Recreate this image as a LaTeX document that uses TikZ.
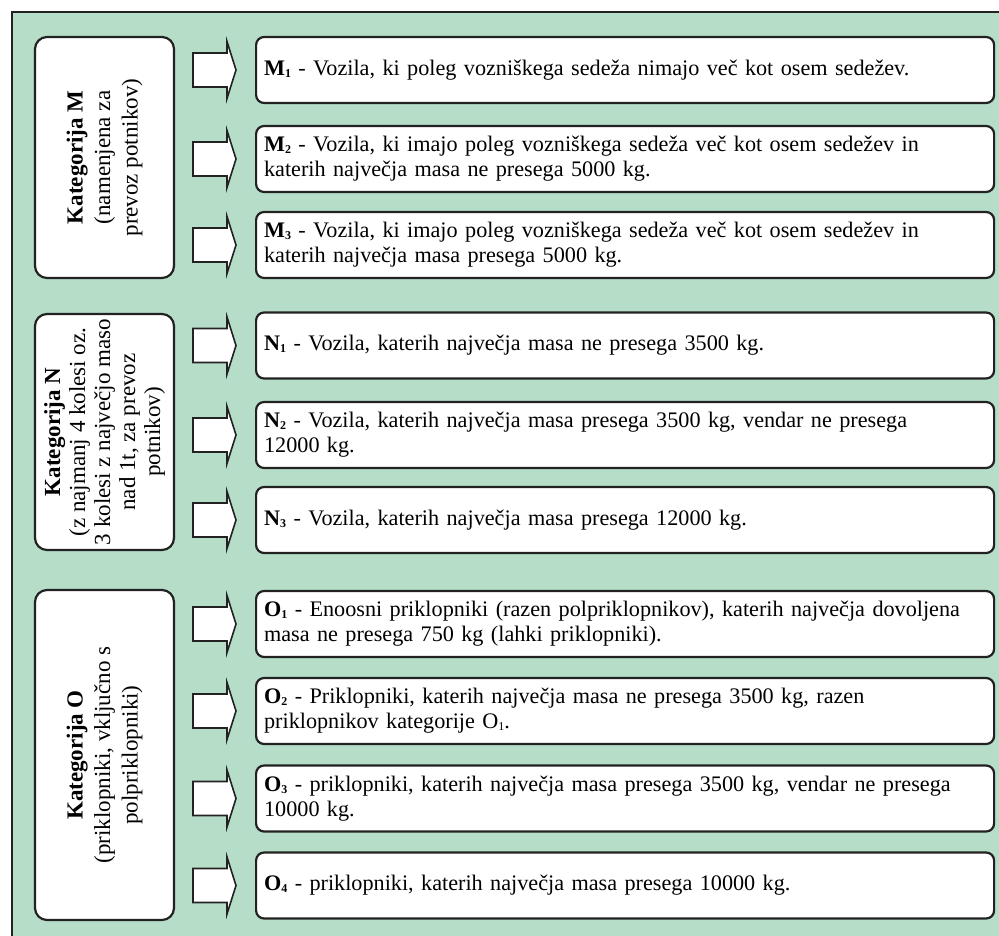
\documentclass[tikz,border=0pt]{standalone}
\usepackage{fontspec}
\setmainfont{Liberation Serif}
\hyphenpenalty=10000
\definecolor{panelgreen}{RGB}{181,221,200}
\definecolor{edge}{RGB}{34,34,34}
\newcommand\idx[1]{\raisebox{-2pt}{\fontsize{12}{12}\selectfont #1}}
\newcommand\cls[2]{{\bfseries #1\idx{#2}}}
\begin{document}
\begin{tikzpicture}[x=1pt,y=-1pt,
  catbox/.style={draw=edge, line width=2.2pt, fill=white, rounded corners=12pt,
    rotate=90, align=center, inner sep=4pt,
    font=\fontsize{23}{27.5}\selectfont},
  itembox/.style={draw=edge, line width=2.2pt, fill=white, rounded corners=8pt,
    anchor=west, minimum width=732pt, minimum height=66pt,
    text width=722pt, align=left, inner xsep=8pt, inner ysep=0pt,
    font=\fontsize{22.2}{25}\selectfont},
  blockarrow/.style={draw=edge, line width=1.6pt, fill=white, line join=miter}
]
\useasboundingbox (0,0) rectangle (999,936);
\begin{scope}
  \clip (0,0) rectangle (999,936);
  \draw[edge, line width=2.4pt, fill=panelgreen] (12,12) rectangle (1020,960);
\end{scope}

% category boxes (text runs bottom to top)
\node[catbox, minimum width=241pt, minimum height=139pt] (catM) at (104.5,157.5)
  {{\bfseries Kategorija M}\\(namenjena za\\prevoz potnikov)};
\node[catbox, minimum width=236pt, minimum height=139pt,
      font=\fontsize{23}{25}\selectfont] (catN) at (104.5,432)
  {{\bfseries Kategorija N}\\(z najmanj 4 kolesi oz.\\3 kolesi z največjo maso\\nad 1t, za prevoz\\potnikov)};
\node[catbox, minimum width=330pt, minimum height=139pt] (catO) at (104.5,755)
  {{\bfseries Kategorija O}\\(priklopniki, vključno s\\polpriklopniki)};

% block arrows pointing at each class
\foreach \c in {70,159,245,345.5,435,520,624,711,798.5,885.5}{
  \draw[blockarrow] (193,\c-17) -- (227,\c-17) -- (227,\c-28.5) -- (236,\c)
     -- (227,\c+28.5) -- (227,\c+17) -- (193,\c+17) -- cycle;
}

% class descriptions
\node[itembox] (M1) at (255,70)
  {\cls{M}{1} - Vozila, ki poleg vozniškega sedeža nimajo več kot osem sedežev.};
\node[itembox] (M2) at (255,159)
  {\cls{M}{2} - Vozila, ki imajo poleg vozniškega sedeža več kot osem sedežev in\\katerih največja masa ne presega 5000 kg.};
\node[itembox] (M3) at (255,245)
  {\cls{M}{3} - Vozila, ki imajo poleg vozniškega sedeža več kot osem sedežev in\\katerih največja masa presega 5000 kg.};
\node[itembox] (N1) at (255,345.5)
  {\cls{N}{1} - Vozila, katerih največja masa ne presega 3500 kg.};
\node[itembox] (N2) at (255,435)
  {\cls{N}{2} - Vozila, katerih največja masa presega 3500 kg, vendar ne presega\\12000 kg.};
\node[itembox] (N3) at (255,520)
  {\cls{N}{3} - Vozila, katerih največja masa presega 12000 kg.};
\node[itembox] (O1) at (255,624)
  {\cls{O}{1} - Enoosni priklopniki (razen polpriklopnikov), katerih največja dovoljena\\masa ne presega 750 kg (lahki priklopniki).};
\node[itembox] (O2) at (255,711)
  {\cls{O}{2} - Priklopniki, katerih največja masa ne presega 3500 kg, razen\\priklopnikov kategorije O\idx{1}.};
\node[itembox] (O3) at (255,798.5)
  {\cls{O}{3} - priklopniki, katerih največja masa presega 3500 kg, vendar ne presega\\10000 kg.};
\node[itembox] (O4) at (255,885.5)
  {\cls{O}{4} - priklopniki, katerih največja masa presega 10000 kg.};
\end{tikzpicture}
\end{document}
